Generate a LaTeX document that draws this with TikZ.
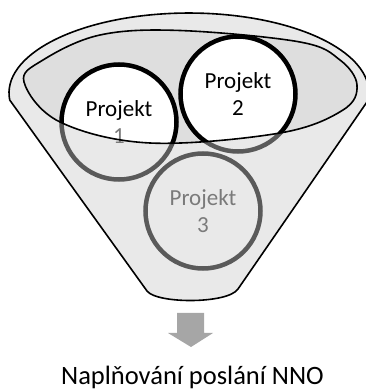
\documentclass[tikz,border=0pt]{standalone}
\usepackage{fontspec}
\setmainfont{Carlito}
\definecolor{funnelgray}{HTML}{E9E9E9}
\definecolor{innergray}{HTML}{DEDEDE}
\definecolor{ringgray}{HTML}{5A5A5A}
\definecolor{fadetext}{HTML}{7A7A7A}
\definecolor{arrowgray}{HTML}{A6A6A6}
\begin{document}
\begin{tikzpicture}[x=1pt,y=1pt,
  ring/.style={circle,minimum size=115pt,inner sep=0pt,line width=4.5pt,align=center,
    font=\fontsize{23}{27}\selectfont},
  outline/.style={draw=black,line width=1.6pt},
  goaltext/.style={font=\fontsize{26.5}{30}\selectfont,anchor=base}]
\useasboundingbox (0,0) rectangle (366,392);
\def\outerpath{(9.7,292) arc[start angle=185,end angle=-5,x radius=180,y radius=80] -- (238,103) .. controls (228,88) and (157,88) .. (147,101) -- cycle}
\def\innerpath{plot[smooth cycle,tension=0.6] coordinates {(24,310) (43,332) (100,357) (180,361.5) (300,350) (340,332) (357,307) (343,282) (280,259) (150,249) (60,270)}}
% funnel body
\fill[funnelgray] \outerpath;
% projects seen through the front of the funnel
\node[ring,draw=ringgray,text=fadetext] (c1) at (119,270) {Projekt\\1};
\node[ring,draw=ringgray,text=fadetext] (c2) at (238,298) {Projekt\\2};
\node[ring,draw=ringgray,text=fadetext] (c3) at (203,181) {Projekt\\3};
% inside of the funnel mouth
\begin{scope}
  \clip \innerpath;
  \fill[innergray] \innerpath;
  \node[ring,draw=black,fill=white,text=black] (c1in) at (119,270) {Projekt\\\textcolor{fadetext}{1}};
  \node[ring,draw=black,fill=white,text=black] (c2in) at (238,298) {Projekt\\2};
\end{scope}
% outlines
\draw[outline] \innerpath;
\draw[outline,line join=round] \outerpath;
% arrow and goal
\fill[arrowgray] (177,79) -- (204,79) -- (204,59) -- (213,59) -- (191,45) -- (168,59) -- (177,59) -- cycle;
\node[goaltext] (goal) at (192.5,7) {Naplňování poslání NNO};
\end{tikzpicture}
\end{document}
